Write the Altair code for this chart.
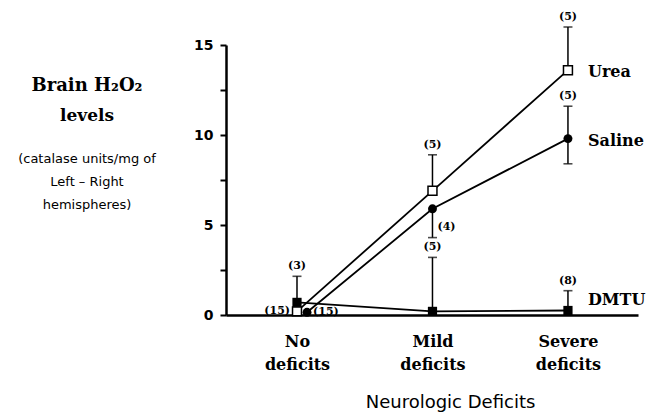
import altair as alt
import pandas as pd

categories = ["No deficits", "Mild deficits", "Severe deficits"]
series_names = ["Urea", "Saline", "DMTU"]
urea_mean = [0.2, 6.9, 13.6]
saline_mean = [0.15, 5.9, 9.8]
dmtu_mean = [0.7, 0.2, 0.25]

# error bars
err_series = ["Urea", "Urea", "Saline", "Saline", "DMTU", "DMTU", "DMTU"]
err_cat = ["Mild deficits", "Severe deficits", "Mild deficits", "Severe deficits",
           "No deficits", "Mild deficits", "Severe deficits"]
err_lo = [6.9, 13.6, 4.3, 8.4, 0.7, 0.2, 0.25]
err_hi = [8.9, 16.0, 5.9, 11.6, 2.15, 3.2, 1.35]

# caps of the error bars
cap_series = ["Urea", "Urea", "Saline", "Saline", "Saline", "DMTU", "DMTU", "DMTU"]
cap_cat = ["Mild deficits", "Severe deficits", "Mild deficits", "Severe deficits",
           "Severe deficits", "No deficits", "Mild deficits", "Severe deficits"]
cap_val = [8.9, 16.0, 4.3, 11.6, 8.4, 2.15, 3.2, 1.35]

# sample-size labels above the caps
n_series = ["Urea", "Urea", "Saline", "DMTU", "DMTU", "DMTU"]
n_cat = ["Mild deficits", "Severe deficits", "Severe deficits",
         "No deficits", "Mild deficits", "Severe deficits"]
n_val = [8.9, 16.0, 11.6, 2.15, 3.2, 1.35]
n_text = ["(5)", "(5)", "(5)", "(3)", "(5)", "(8)"]

means = pd.DataFrame({
    "series": [s for s in series_names for _ in categories],
    "cat": categories * 3,
    "value": urea_mean + saline_mean + dmtu_mean,
})
errs = pd.DataFrame({"series": err_series, "cat": err_cat, "lo": err_lo, "hi": err_hi})
caps = pd.DataFrame({"series": cap_series, "cat": cap_cat, "value": cap_val})
nlab = pd.DataFrame({"series": n_series, "cat": n_cat, "value": n_val, "text": n_text})
n4 = pd.DataFrame({"series": ["Saline"], "cat": ["Mild deficits"], "value": [4.9], "text": ["(4)"]})
n15l = pd.DataFrame({"series": ["Urea"], "cat": ["No deficits"], "value": [0.2], "text": ["(15)"]})
n15r = pd.DataFrame({"series": ["Saline"], "cat": ["No deficits"], "value": [0.15], "text": ["(15)"]})
serlab = pd.DataFrame({"series": series_names, "cat": ["Severe deficits"] * 3,
                       "value": [urea_mean[2], saline_mean[2], dmtu_mean[2]]})

cat_js = "[" + ",".join("'" + c + "'" for c in categories) + "]"
xcalc = ("indexof(" + cat_js + ", datum.cat) + "
         "(datum.series == 'Saline' && datum.cat == 'No deficits' ? 0.074 : 0)")
lab_js = "[" + ",".join("['" + c.split(" ")[0] + "','" + c.split(" ")[1] + "']" for c in categories) + "]"

xscale = alt.Scale(domain=[-0.524, 2.517], nice=False, zero=False)
yscale = alt.Scale(domain=[0, 15], nice=False)

xaxis = alt.Axis(values=[0, 1, 2], labelExpr=lab_js + "[datum.value]",
                 ticks=False, grid=False, domainWidth=2.5, domainColor="black",
                 labelFont="DejaVu Serif", labelFontWeight="bold", labelFontSize=16,
                 labelColor="black", labelLineHeight=23, labelPadding=18,
                 title="Neurologic Deficits", titleFont="DejaVu Sans",
                 titleFontWeight="normal", titleFontSize=18, titleColor="black",
                 titleX=224, titleY=87, titleBaseline="middle", titleAlign="center")
yaxis = alt.Axis(values=[0, 2.5, 5, 7.5, 10, 12.5, 15],
                 labelExpr="datum.value % 5 == 0 ? datum.label : ''",
                 grid=False, domainWidth=2.5, domainColor="black",
                 tickColor="black", tickWidth=2, tickSize=6,
                 labelFont="DejaVu Sans", labelFontWeight="bold", labelFontSize=14,
                 labelColor="black", labelPadding=7, title=None)

X = alt.X("xpos:Q", scale=xscale, axis=xaxis, title="Neurologic Deficits")
Y = alt.Y("value:Q", scale=yscale, axis=yaxis, title=None)


def base(df):
    return alt.Chart(df).transform_calculate(xpos=xcalc)


lines = base(means).mark_line(color="black", strokeWidth=1.8).encode(
    x=X, y=Y, detail="series:N")
bars = base(errs).mark_rule(color="black", strokeWidth=1.5).encode(
    x=X, y=alt.Y("lo:Q", scale=yscale, axis=yaxis, title=None), y2="hi:Q")
capm = base(caps).mark_tick(color="black", orient="horizontal", size=9, thickness=1.6).encode(
    x=X, y=Y)
circ = base(means[means.series == "Saline"]).mark_point(
    shape="circle", filled=True, color="black", size=80, opacity=1).encode(x=X, y=Y)
dmtu = base(means[means.series == "DMTU"]).mark_point(
    shape="square", filled=True, color="black", size=85, opacity=1).encode(x=X, y=Y)
urea = base(means[means.series == "Urea"]).mark_point(
    shape="square", filled=True, fill="white", stroke="black", strokeWidth=1.5,
    size=80, opacity=1).encode(x=X, y=Y)

nfont = dict(font="DejaVu Serif", fontWeight="bold", fontSize=11, color="black")
ntext = base(nlab).mark_text(dy=-10, baseline="middle", **nfont).encode(x=X, y=Y, text="text:N")
n4t = base(n4).mark_text(dx=5, align="left", baseline="middle", **nfont).encode(x=X, y=Y, text="text:N")
n15lt = base(n15l).mark_text(dx=-7, align="right", baseline="middle", **nfont).encode(x=X, y=Y, text="text:N")
n15rt = base(n15r).mark_text(dx=6, align="left", baseline="middle", **nfont).encode(x=X, y=Y, text="text:N")

sfont = dict(font="DejaVu Serif", fontWeight="bold", fontSize=16, color="black")
slab_main = base(serlab[serlab.series != "DMTU"]).mark_text(
    dx=20, dy=2, align="left", baseline="middle", **sfont).encode(x=X, y=Y, text="series:N")
slab_dmtu = base(serlab[serlab.series == "DMTU"]).mark_text(
    dx=20, dy=-11, align="left", baseline="middle", **sfont).encode(x=X, y=Y, text="series:N")


def side_text(t, y, font, size, weight):
    return alt.Chart(pd.DataFrame({"t": [t]})).mark_text(
        font=font, fontSize=size, fontWeight=weight, color="black",
        align="center", baseline="middle").encode(
        x=alt.value(-139), y=alt.value(y), text="t:N")


t1 = side_text("Brain H₂O₂", 41, "DejaVu Serif", 18, "bold")
t2 = side_text("levels", 71, "DejaVu Serif", 17, "bold")
t3 = side_text("(catalase units/mg of", 114, "DejaVu Sans", 13, "normal")
t4 = side_text("Left  –  Right", 137, "DejaVu Sans", 13, "normal")
t5 = side_text("hemispheres)", 160, "DejaVu Sans", 13, "normal")

chart = alt.layer(
    lines, bars, capm, dmtu, urea, circ, ntext, n4t, n15lt, n15rt,
    slab_main, slab_dmtu, t1, t2, t3, t4, t5
).properties(
    width=412, height=270,
    autosize=alt.AutoSizeParams(type="none"),
    padding={"left": 218, "top": 37, "right": 8, "bottom": 99},
    background="white",
).configure_view(stroke=None)

chart.save("out.html", embed_options={"renderer": "svg", "actions": False})
